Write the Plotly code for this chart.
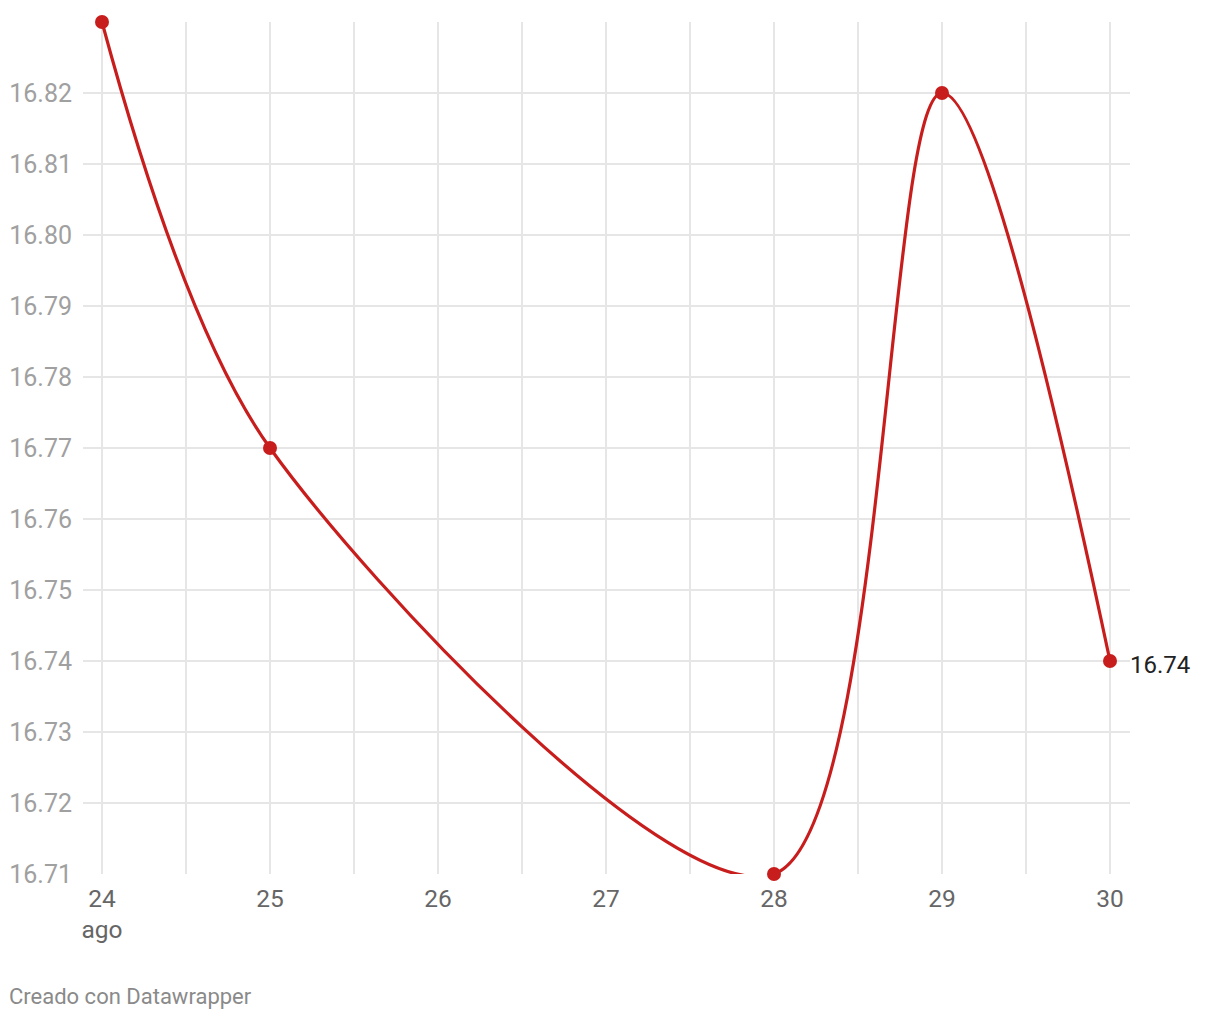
import plotly.graph_objects as go

# Data
days = [24, 25, 28, 29, 30]
values = [16.83, 16.77, 16.71, 16.82, 16.74]
y_ticks = [16.71, 16.72, 16.73, 16.74, 16.75, 16.76, 16.77, 16.78, 16.79, 16.80, 16.81, 16.82]
y_tick_labels = ["16.71", "16.72", "16.73", "16.74", "16.75", "16.76", "16.77", "16.78", "16.79", "16.80", "16.81", "16.82"]
x_ticks = [24, 24.5, 25, 25.5, 26, 26.5, 27, 27.5, 28, 28.5, 29, 29.5, 30]
x_tick_labels = ["24<br>ago", "", "25", "", "26", "", "27", "", "28", "", "29", "", "30"]
last_label = "16.74"
footer = "Creado con Datawrapper"

RED = "#c71e1d"
FONT = "Roboto"

fig = go.Figure()
fig.add_trace(go.Scatter(
    x=days, y=values, mode="lines+markers",
    line=dict(color=RED, width=3.2, shape="spline", smoothing=0.9),
    marker=dict(color=RED, size=14),
    cliponaxis=False, hoverinfo="skip", showlegend=False,
))

# page has an 8px body margin, so figure coords = page coords - 8
OFF = 8
W, H = 1212, 1012
L, T = 83 - OFF, 22 - OFF
R = W - (1130 - OFF)
B = H - (874 - OFF)
px_per_day = 168.0
x0 = 24 - (102 - 83) / px_per_day
x1 = 30 + (1130 - 1110) / px_per_day
PW, PH = W - L - R, H - T - B

fig.update_layout(
    width=W, height=H,
    margin=dict(l=L, r=R, t=T, b=B, pad=0, autoexpand=False),
    paper_bgcolor="white", plot_bgcolor="white",
    font=dict(family=FONT, size=24, color="#666666"),
    xaxis=dict(
        range=[x0, x1], tickmode="array", tickvals=x_ticks, ticktext=x_tick_labels,
        showgrid=True, gridcolor="#e6e6e6", gridwidth=2,
        zeroline=False, showline=False, ticks="", automargin=False,
        tickfont=dict(family=FONT, size=24.5, color="#666666"),
        ticklabelstandoff=7,
    ),
    yaxis=dict(
        range=[16.71, 16.83], tickmode="array", tickvals=y_ticks, ticktext=y_tick_labels,
        showgrid=True, gridcolor="#e6e6e6", gridwidth=2,
        zeroline=False, showline=False, ticks="", automargin=False,
        tickfont=dict(family=FONT, size=25, color="#a0a0a0"),
        ticklabelstandoff=10,
    ),
    annotations=[
        dict(x=days[-1], y=values[-1], xref="x", yref="y", text=last_label,
             showarrow=False, xanchor="left", yanchor="middle", xshift=18, yshift=-4,
             font=dict(family=FONT, size=24, color="#222222")),
        dict(x=(7 - 83) / PW, y=-(997 - 874) / PH, xref="paper", yref="paper",
             text=footer, showarrow=False, xanchor="left", yanchor="middle",
             font=dict(family=FONT, size=22, color="#8a8a8a")),
    ],
)

fig.write_html("out.html")
